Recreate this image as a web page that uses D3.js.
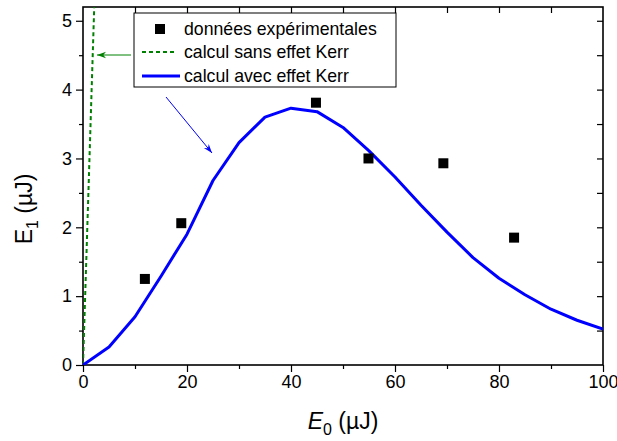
<!DOCTYPE html>
<html>
<head>
<meta charset="utf-8">
<script src="https://cdn.jsdelivr.net/npm/d3@7"></script>
<style>
  body { margin: 0; background: #fff; }
  svg { font-family: "Liberation Sans", Arial, sans-serif; }
</style>
</head>
<body>
<div id="chart"></div>
<script>
// data
const calcX = [0, 5, 10, 15, 20, 25, 30, 35, 40, 45, 50, 55, 60, 65, 70, 75, 80, 85, 90, 95, 100];
const calcKerr = [0, 0.26, 0.70, 1.29, 1.90, 2.68, 3.23, 3.60, 3.73, 3.68, 3.45, 3.11, 2.73, 2.32, 1.93, 1.56, 1.26, 1.02, 0.81, 0.65, 0.52];
const noKerrX = [0, 1.1, 2.2];
const noKerrY = [0, 2.65, 5.3];
const expX = [11.9, 18.9, 44.8, 54.9, 69.3, 82.9];
const expY = [1.25, 2.06, 3.81, 3.0, 2.93, 1.85];
const xTicks = [0, 20, 40, 60, 80, 100];
const yTicks = [0, 1, 2, 3, 4, 5];
const legendLabels = ["données expérimentales", "calcul sans effet Kerr", "calcul avec effet Kerr"];

const width = 617, height = 441;
const margin = { left: 83, right: 14, top: 7, bottom: 76 };
const iw = width - margin.left - margin.right;
const ih = height - margin.top - margin.bottom;

const svg = d3.select("#chart").append("svg")
  .attr("width", width).attr("height", height);

const x = d3.scaleLinear().domain([0, 100]).range([0, iw]);
const y = d3.scaleLinear().domain([0, 5.2]).range([ih, 0]);

const g = svg.append("g").attr("transform", `translate(${margin.left},${margin.top})`);

const defs = svg.append("defs");
defs.append("clipPath").attr("id", "clip")
  .append("rect").attr("width", iw).attr("height", ih);

// arrow heads
[["arrG", "#008000"], ["arrB", "#0000ff"]].forEach(function (a) {
  defs.append("marker").attr("id", a[0])
    .attr("viewBox", "0 0 10 10").attr("refX", 10).attr("refY", 5)
    .attr("markerWidth", 9).attr("markerHeight", 9).attr("orient", "auto")
    .attr("markerUnits", "userSpaceOnUse")
    .append("path").attr("d", "M0,1.5 L10,5 L0,8.5 L3,5 Z").attr("fill", a[1]);
});

const xMinor = d3.range(10, 100, 20);
const yMinor = d3.range(0.5, 5.2, 1);

// bottom + left axes, ticks outward
g.append("g").attr("transform", `translate(0,${ih})`)
  .call(d3.axisBottom(x).tickValues(xTicks).tickSize(7).tickPadding(3));
g.append("g").attr("transform", `translate(0,${ih})`)
  .call(d3.axisBottom(x).tickValues(xMinor).tickSize(4).tickFormat(""));
g.append("g")
  .call(d3.axisLeft(y).tickValues(yTicks).tickSize(7).tickPadding(4).tickFormat(d3.format("d")));
g.append("g")
  .call(d3.axisLeft(y).tickValues(yMinor).tickSize(4).tickFormat(""));
// top / right mirrored ticks, inward
g.append("g")
  .call(d3.axisBottom(x).tickValues(d3.range(10, 100, 10)).tickSize(6).tickFormat(""));
g.append("g").attr("transform", `translate(${iw},0)`)
  .call(d3.axisLeft(y).tickValues(d3.range(0.5, 5.2, 0.5)).tickSize(6).tickFormat(""));

g.selectAll(".domain").remove();
g.selectAll(".tick line").attr("stroke", "#000").attr("stroke-width", 1.2);
g.selectAll(".tick text").attr("font-size", 18).attr("fill", "#000")
  .attr("font-family", "Liberation Sans, Arial, sans-serif");

g.append("rect").attr("width", iw).attr("height", ih)
  .attr("fill", "none").attr("stroke", "#000").attr("stroke-width", 1.6);

const plot = g.append("g").attr("clip-path", "url(#clip)");

const line = d3.line().x(d => x(d[0])).y(d => y(d[1]));

plot.append("path")
  .datum(noKerrX.map((v, i) => [v, noKerrY[i]]))
  .attr("d", line).attr("fill", "none")
  .attr("stroke", "#008000").attr("stroke-width", 2).attr("stroke-dasharray", "4,3");

plot.append("path")
  .datum(calcX.map((v, i) => [v, calcKerr[i]]))
  .attr("d", line).attr("fill", "none")
  .attr("stroke", "#0000ff").attr("stroke-width", 3).attr("stroke-linejoin", "round");

const sq = 10;
plot.selectAll("rect.exp").data(expX.map((v, i) => [v, expY[i]]))
  .join("rect").attr("class", "exp")
  .attr("x", d => x(d[0]) - sq / 2).attr("y", d => y(d[1]) - sq / 2)
  .attr("width", sq).attr("height", sq).attr("fill", "#000");

// legend
const lg = svg.append("g");
lg.append("rect").attr("x", 134).attr("y", 13).attr("width", 262).attr("height", 74)
  .attr("fill", "#fff").attr("stroke", "#000").attr("stroke-width", 1);
const rows = [29, 52, 76];
lg.append("rect").attr("x", 155).attr("y", rows[0] - 5).attr("width", 10).attr("height", 10).attr("fill", "#000");
lg.append("line").attr("x1", 142).attr("x2", 176).attr("y1", rows[1]).attr("y2", rows[1])
  .attr("stroke", "#008000").attr("stroke-width", 2).attr("stroke-dasharray", "4,3");
lg.append("line").attr("x1", 142).attr("x2", 180).attr("y1", rows[2]).attr("y2", rows[2])
  .attr("stroke", "#0000ff").attr("stroke-width", 3);
lg.selectAll("text.lab").data(legendLabels).join("text").attr("class", "lab")
  .attr("x", 184).attr("y", (d, i) => rows[i]).attr("dy", "0.35em")
  .attr("font-size", 17.7).attr("fill", "#000").text(d => d);

// annotation arrows
svg.append("line").attr("x1", 131).attr("y1", 55).attr("x2", 97).attr("y2", 55)
  .attr("stroke", "#008000").attr("stroke-width", 1).attr("marker-end", "url(#arrG)");
svg.append("line").attr("x1", 166).attr("y1", 97).attr("x2", 212).attr("y2", 153)
  .attr("stroke", "#0000ff").attr("stroke-width", 1).attr("marker-end", "url(#arrB)");

// axis titles
const yt = svg.append("text").attr("transform", "translate(32,209) rotate(-90)")
  .attr("text-anchor", "middle").attr("font-size", 23).attr("fill", "#000");
yt.append("tspan").text("E");
yt.append("tspan").attr("font-size", 16).attr("dy", 6).text("1");
yt.append("tspan").attr("dy", -6).text(" (µJ)");

const xt = svg.append("text").attr("x", 343).attr("y", 429)
  .attr("text-anchor", "middle").attr("font-size", 23).attr("fill", "#000");
xt.append("tspan").attr("font-style", "italic").text("E");
xt.append("tspan").attr("font-size", 16).attr("dy", 6).text("0");
xt.append("tspan").attr("dy", -6).text(" (µJ)");
</script>
</body>
</html>
